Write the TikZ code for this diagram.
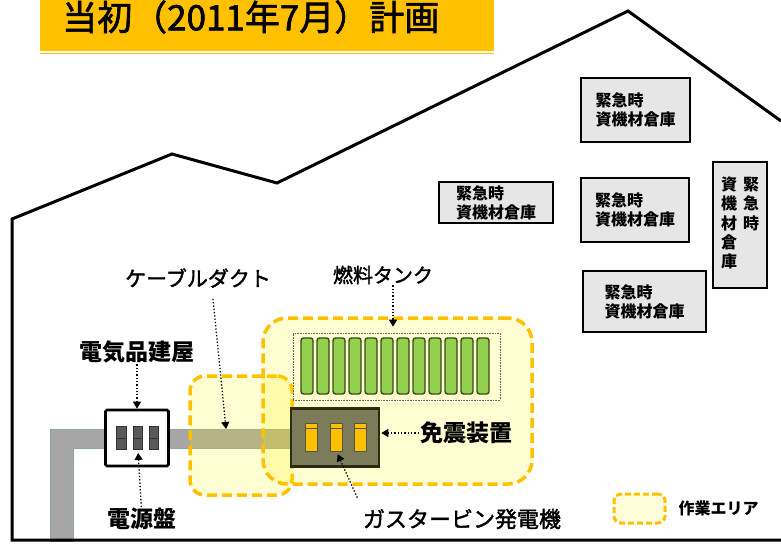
\documentclass[tikz,border=0pt]{standalone}
\usepackage{fontspec}
\setmainfont{Noto Sans CJK JP}
\newfontfamily\medfont[FakeBold=1.8]{Noto Sans CJK JP}
\usetikzlibrary{arrows.meta,positioning}
\definecolor{planyellow}{HTML}{FFC000}
\definecolor{storegray}{HTML}{E6E6E6}
\definecolor{pipegray}{HTML}{A6A6A6}
\definecolor{pipeedge}{HTML}{8CA5AA}
\definecolor{tankgreen}{HTML}{92D050}
\definecolor{tankedge}{HTML}{3D4A12}
\definecolor{gtolive}{HTML}{7D7C5A}
\definecolor{gtedge}{HTML}{2B2B12}

\begin{document}
\begin{tikzpicture}[x=1pt, y=-1pt, >={Triangle[length=7pt,width=8pt]},
  wall/.style={line width=3pt, line join=miter},
  store/.style={draw, line width=2.6pt, fill=storegray, align=left, inner sep=0pt, font=\bfseries\fontsize{16}{19}\selectfont},
  area/.style={draw=planyellow, line width=3.5pt, dash pattern=on 10pt off 5pt, fill=yellow, fill opacity=0.18, rounded corners=20pt, inner sep=0pt},
  tank/.style={draw=tankedge, line width=1.4pt, fill=tankgreen, rounded corners=2.5pt, minimum width=12pt, minimum height=56pt, inner sep=0pt},
  panel/.style={draw=black!80, line width=0.8pt, fill=black!65, minimum width=9.5pt, minimum height=23pt, inner sep=0pt,
    path picture={\draw[black!80, line width=0.8pt] (path picture bounding box.west) -- (path picture bounding box.east);}},
  gtunit/.style={draw=gtedge!80, line width=1pt, fill=planyellow, minimum width=12pt, minimum height=28pt, inner sep=0pt,
    path picture={\draw[gtedge!80, line width=1pt] ([yshift=-5pt]path picture bounding box.north west) -- ([yshift=-5pt]path picture bounding box.north east);}},
  lab/.style={inner sep=1pt, font=\medfont\fontsize{21}{24}\selectfont},
  boldlab/.style={inner sep=1pt, font=\bfseries\fontsize{23}{26}\selectfont},
  pointer/.style={->, line width=1.3pt, dash pattern=on 1.3pt off 2pt}]
\useasboundingbox (0,0) rectangle (781,543);

% title bar
\node[fill=planyellow, minimum width=454pt, minimum height=51pt, inner sep=0pt, anchor=north west] (titlebar) at (40,0) {};
\draw[planyellow, line width=1.2pt] ([yshift=-2pt]titlebar.south west) -- ([yshift=-2pt]titlebar.south east);
\node[anchor=west, inner sep=0pt, font=\medfont\fontsize{35}{38}\selectfont] (titletext) at (62,17) {当初（2011年7月）計画};

% cable duct and work areas
\fill[pipegray, draw=pipeedge, line width=1pt] (50,541) |- (290,429) |- (73,448) -- (73,541) -- cycle;
\node[area, minimum width=102pt, minimum height=119pt, rounded corners=15pt] (ductarea) at (241,435.5) {};
\node[area, minimum width=269pt, minimum height=166pt, rounded corners=24pt] (plantarea) at (397.5,401) {};

% building outline
\draw[wall] (781,540) -- (12,540) -- (12,219) -- (172,154) -- (277,183) -- (628,11) -- (781,121);

% storage sheds
\node[store, minimum width=109pt, minimum height=64pt] (storetop) at (635.5,110) {緊急時\\資機材倉庫};
\node[store, minimum width=114pt, minimum height=41pt] (storeleft) at (496,202.5) {緊急時\\資機材倉庫};
\node[store, minimum width=108pt, minimum height=64pt] (storemid) at (635,210) {緊急時\\資機材倉庫};
\node[store, minimum width=123pt, minimum height=61pt] (storelow) at (644.5,301.5) {緊急時\\資機材倉庫};
\node[store, minimum width=54pt, minimum height=126pt, font=\bfseries\fontsize{16}{18.5}\selectfont] (storeright) at (740,225)
  {\begin{tabular}{@{}c@{\hspace{6pt}}c@{}}資&緊\\機&急\\材&時\\倉&\\庫&\end{tabular}};

% fuel tanks
\node[draw=black!60, densely dotted, line width=0.6pt, minimum width=207pt, minimum height=67pt, inner sep=0pt] (tankframe) at (396.5,366.5) {};
\foreach \i in {1,...,12}
  \node[tank] (tank\i) at ({307+16*(\i-1)},366) {};

% gas turbine generators
\node[draw=gtedge, line width=2.6pt, fill=gtolive, minimum width=88pt, minimum height=58pt, inner sep=0pt] (gtbox) at (335,437.5) {};
\foreach \i/\x in {1/311,2/336.5,3/360}
  \node[gtunit] (gt\i) at (\x,437) {};

% electrical building
\node[draw, line width=2.6pt, fill=white, rounded corners=1.5pt, minimum width=63pt, minimum height=56pt, inner sep=0pt] (elec) at (137,438) {};
\foreach \i/\x in {1/121.5,2/138,3/154}
  \node[panel] (panel\i) at (\x,438) {};

% labels
\node[boldlab] (lbl-elec) at (137,352) {電気品建屋};
\node[boldlab] (lbl-panel) at (142,519) {電源盤};
\node[lab] (lbl-duct) at (198,278) {ケーブルダクト};
\node[lab, font=\medfont\fontsize{20}{23}\selectfont] (lbl-tank) at (383,275) {燃料タンク};
\node[boldlab] (lbl-iso) at (466,433) {免震装置};
\node[lab, font=\medfont\fontsize{22}{25}\selectfont] (lbl-gen) at (462,519) {ガスタービン発電機};
\coordinate (ductpt) at (226,429);

\draw[pointer] (lbl-elec) -- (elec.north);
\draw[pointer, shorten >=3pt] (lbl-panel) -- (panel2.south);
\draw[pointer, shorten <=10pt] ([xshift=14pt]lbl-duct.south) -- (ductpt);
\draw[pointer, shorten >=6pt] ([xshift=10pt]lbl-tank.south) -- ([xshift=10pt]lbl-tank.south |- tankframe.north);
\draw[pointer, shorten >=1pt] (lbl-iso.west) -- (lbl-iso.west -| gtbox.east);
\draw[pointer, shorten <=11pt, shorten >=3pt] (lbl-gen.north west) -- (gt2.south);

% legend
\node[draw=planyellow, line width=3pt, dash pattern=on 6pt off 3pt, fill=yellow!15, rounded corners=7pt, minimum width=51pt, minimum height=29pt, inner sep=0pt] (legend) at (639.5,508.5) {};
\node[inner sep=1pt, font=\bfseries\fontsize{16}{19}\selectfont, right=11pt of legend] (lbl-legend) {作業エリア};
\end{tikzpicture}
\end{document}
